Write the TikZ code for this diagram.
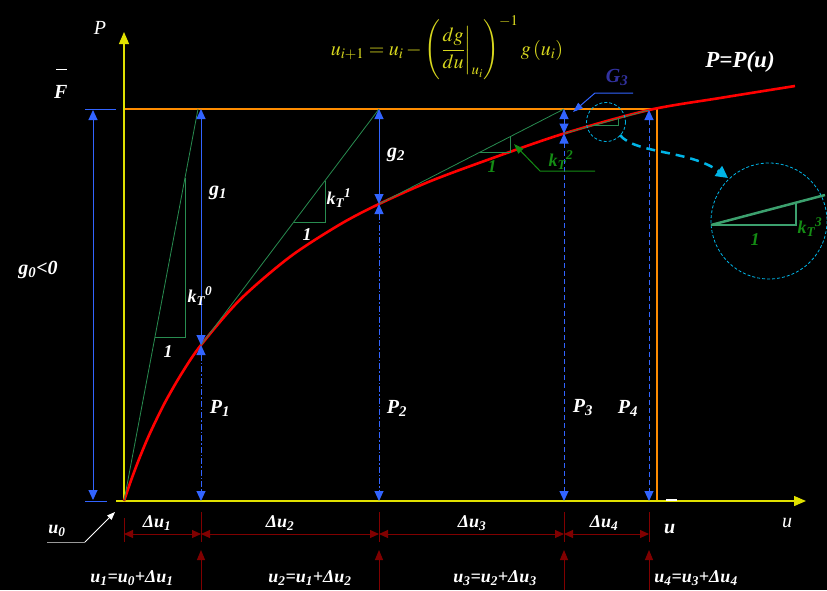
\documentclass[tikz,border=0pt]{standalone}
\usepackage{amsmath}
\usepackage{mathptmx}
\usepackage{fontspec}
\setmainfont{Liberation Serif}
\usepackage{xcolor}
\usetikzlibrary{arrows.meta}

\definecolor{axisyellow}{RGB}{225,225,0}
\definecolor{fyellow}{RGB}{215,215,30}
\definecolor{limorange}{RGB}{255,140,0}
\definecolor{gblue}{RGB}{50,100,255}
\definecolor{gthree}{RGB}{50,50,160}
\definecolor{tgreen}{RGB}{40,140,80}
\definecolor{lgreen}{RGB}{20,140,20}
\definecolor{zgreen}{RGB}{60,160,110}
\definecolor{zcyan}{RGB}{0,180,230}
\definecolor{dimred}{RGB}{128,0,0}

\begin{document}
\begin{tikzpicture}[x=1pt,y=-1pt,
  lbl/.style={text=white,font=\fontsize{20}{22}\selectfont\bfseries\itshape,inner sep=0pt},
  slbl/.style={lbl,font=\fontsize{18}{20}\selectfont\bfseries\itshape},
  glbl/.style={slbl,text=lgreen},
  axlbl/.style={text=white,font=\fontsize{20}{22}\selectfont\itshape,inner sep=0pt},
  axline/.style={draw=axisyellow,line width=1.3pt,-{Triangle[length=12pt,width=10pt]}},
  rcurve/.style={draw=red,line width=2.6pt},
  limline/.style={draw=limorange,line width=2.2pt},
  tangline/.style={draw=tgreen,line width=0.8pt},
  gline/.style={draw=gblue,line width=1pt,{Triangle[length=10pt,width=9pt]}-{Triangle[length=10pt,width=9pt]}},
  pline/.style={gline,dash pattern=on 6pt off 2pt on 1.5pt off 2pt},
  pline2/.style={gline,dash pattern=on 5pt off 3pt},
  dimline/.style={draw=dimred,line width=1pt},
  dimarrow/.style={dimline,{Triangle[length=9pt,width=8pt]}-{Triangle[length=9pt,width=8pt]}},
  uparrow/.style={dimline,-{Triangle[length=10pt,width=8pt]}},
  zoomcirc/.style={draw=zcyan,line width=0.8pt,dash pattern=on 3pt off 2pt},
  pointer/.style={line width=1pt,-{Triangle[length=10pt,width=7pt]}}
]
\fill[black] (0,0) rectangle (827,590);
\useasboundingbox (0,0) rectangle (827,590);

\coordinate (O) at (124,501);
\coordinate (ytop) at (124,32);
\coordinate (xl) at (116,501);
\coordinate (xr) at (806,501);
\coordinate (p1) at (201,345);
\coordinate (p2) at (379,204);
\coordinate (p3) at (564,133.5);
\coordinate (p4) at (649,110);
\coordinate (t1) at (201,109);
\coordinate (t2) at (379,109);
\coordinate (t3) at (564,109);
\coordinate (b1) at (201,501);
\coordinate (b2) at (379,501);
\coordinate (b3) at (564,501);
\coordinate (b4) at (649,501);
\coordinate (fl) at (124,109);
\coordinate (fr) at (657,109);
\coordinate (fb) at (657,501);
\coordinate (g0t) at (93,110);
\coordinate (g0b) at (93,500);

\draw[limline] (fl) -- (fr) -- (fb);
\draw[axline] (O) -- (ytop);
\draw[axline] (xl) -- (xr);
\draw[gblue,line width=1pt] (85,109) -- (116,109);
\draw[gblue,line width=1pt] (85,501) -- (107,501);
\draw[gline] (g0t) -- (g0b);

\draw[rcurve] plot[smooth,tension=0.5] coordinates {(O) (127,492) (132,477.7) (140,456.7) (150,433.1) (165,402.4) (182,372.9) (p1) (240,299.7) (290,256.8) (340,224.4) (p2) (430,181.3) (490,159) (p3) (p4) (720,98) (795,86)};

\draw[tangline] (O) -- (198,109);
\draw[tangline] (155,337) -- (185,337) -- (185,178);
\draw[tangline] (p1) -- (t2);
\draw[tangline] (293.8,222) -- (325,222) -- (325,180.6);
\draw[tangline] (p2) -- (t3);
\draw[tangline] (480.3,152) -- (510,152) -- (510,136.7);
\draw[tangline] (p3) -- (p4);
\draw[tangline] (592.3,125) -- (618,125) -- (618,117.7);

\draw[gline] (t1) -- (p1);
\draw[pline] (p1) -- (b1);
\draw[gline] (t2) -- (p2);
\draw[pline] (p2) -- (b2);
\draw[gline] (t3) -- (p3);
\draw[pline2] (p3) -- (b3);
\draw[pline2] (p4) -- (b4);

\draw[zoomcirc] (606,122) circle[radius=19.5];
\draw[zoomcirc] (769,221) circle[radius=58];
\draw[zcyan,line width=2.5pt,dash pattern=on 9pt off 6pt,-{Triangle[length=12pt,width=12pt]}] (620,135) .. controls (635,154) and (690,150) .. (728,178);
\draw[zgreen,line width=2.5pt] (711,225) -- (796,225) -- (796,203);
\draw[zgreen,line width=2.5pt] (711,225) -- (825,195);

\draw[pointer,gblue] (633,93) -- (595,93) -- (573,112);
\draw[pointer,lgreen] (595,171) -- (540,171) -- (514,144);

\node[fyellow,font=\fontsize{20}{24}\selectfont,inner sep=0pt] (newton) at (447,48) {$u_{i+1}=u_i-\left(\left.\dfrac{dg}{du}\right|_{u_i}\right)^{-1} g\left(u_i\right)$};
\node[lbl,font=\fontsize{23}{25}\selectfont\bfseries\itshape] (curvelbl) at (740,62) {P=P(u)};
\node[axlbl] (Plbl) at (100,28) {P};
\node[axlbl] (ulbl) at (787,523) {u};
\node[lbl,anchor=base west] (Fbar) at (54,98) {\makebox[0pt][l]{\hspace{2pt}\raisebox{28pt}{\rule{11pt}{1.2pt}}}F};
\node[lbl,anchor=base west] (ubar) at (664,533) {\makebox[0pt][l]{\hspace{2pt}\raisebox{32.5pt}{\rule{11pt}{1.2pt}}}u};
\node[lbl] (g0) at (38,270) {g\textsubscript{0}<0};
\node[lbl] (g1) at (218,193) {g\textsubscript{1}};
\node[lbl] (g2) at (396,155) {g\textsubscript{2}};
\node[lbl,text=gthree] (G3) at (617,77) {G\textsubscript{3}};
\node[lbl] (P1) at (220,408) {P\textsubscript{1}};
\node[lbl] (P2) at (397,408) {P\textsubscript{2}};
\node[lbl] (P3) at (583,408) {P\textsubscript{3}};
\node[lbl] (P4) at (628,408) {P\textsubscript{4}};
\node[slbl] (k0) at (200,296) {k\textsubscript{T}\textsuperscript{0}};
\node[slbl] (one0) at (168,352) {1};
\node[slbl] (k1) at (339,198) {k\textsubscript{T}\textsuperscript{1}};
\node[slbl] (one1) at (307,235) {1};
\node[glbl] (k2) at (561,160) {k\textsubscript{T}\textsuperscript{2}};
\node[glbl] (one2) at (492,167) {1};
\node[glbl] (k3) at (810,227) {k\textsubscript{T}\textsuperscript{3}};
\node[glbl] (one3) at (755,240) {1};

\node[slbl] (u0) at (57,531) {u\textsubscript{0}};
\draw[gray!80,line width=1pt] (47,542) -- (85,542);
\draw[white,line width=0.8pt,-{Triangle[length=8pt,width=6pt]}] (85,542) -- (115,512);

\coordinate (d0) at (124,534);
\coordinate (d1) at (201,534);
\coordinate (d2) at (379,534);
\coordinate (d3) at (564,534);
\coordinate (d4) at (649,534);
\draw[dimline] (124,518) -- (124,542);
\foreach \x in {201,379,564,649} {
  \draw[dimline] (\x,512) -- (\x,542);
  \draw[uparrow] (\x,590) -- (\x,550);
}
\draw[dimarrow] (d0) -- (d1);
\draw[dimarrow] (d1) -- (d2);
\draw[dimarrow] (d2) -- (d3);
\draw[dimarrow] (d3) -- (d4);

\node[slbl] (du1) at (157,523) {Δu\textsubscript{1}};
\node[slbl] (du2) at (280,523) {Δu\textsubscript{2}};
\node[slbl] (du3) at (472,523) {Δu\textsubscript{3}};
\node[slbl] (du4) at (604,523) {Δu\textsubscript{4}};
\node[slbl] (u1) at (132,578) {u\textsubscript{1}=u\textsubscript{0}+Δu\textsubscript{1}};
\node[slbl] (u2) at (310,578) {u\textsubscript{2}=u\textsubscript{1}+Δu\textsubscript{2}};
\node[slbl] (u3) at (495,578) {u\textsubscript{3}=u\textsubscript{2}+Δu\textsubscript{3}};
\node[slbl] (u4) at (696,578) {u\textsubscript{4}=u\textsubscript{3}+Δu\textsubscript{4}};
\end{tikzpicture}
\end{document}
